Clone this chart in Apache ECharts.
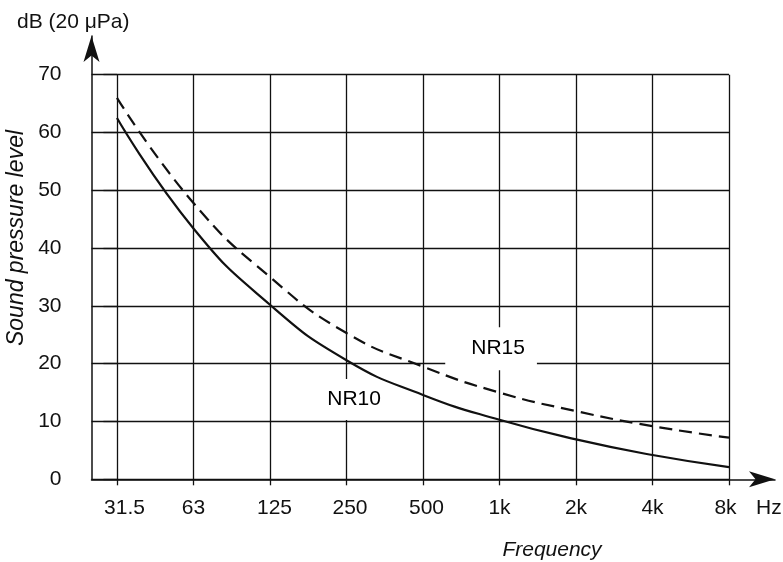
<!DOCTYPE html>
<html><head><meta charset="utf-8">
<script src="https://cdn.jsdelivr.net/npm/echarts@6/dist/echarts.min.js"></script>
<style>html,body{margin:0;padding:0;background:#fff}#c{width:783px;height:562px}</style>
</head><body><div id="c"></div>
<script>
// ---- data ----
const categories = ['31.5', '63', '125', '250', '500', '1k', '2k', '4k', '8k'];
const nr10 = [62.5, 43.4, 30.2, 20.6, 14.6, 10.3, 6.9, 4.2, 2.1];
const nr15 = [66.0, 47.8, 35.0, 25.3, 19.5, 15.0, 11.8, 9.2, 7.2];
const yTicks = [0, 10, 20, 30, 40, 50, 60, 70];
const curveNames = ['NR15', 'NR10'];
const curveLabelX = [4.89, 3.1];
const curveLabelY = [22.6, 13.8];

const FONT = '"Liberation Sans", Arial, sans-serif';
const BLACK = '#111';
const idx = categories.map((c, i) => i);
// small right shift of some tick labels, as in the reference
const labelShift = {'31.5': 'r15', '125': 'r9', '250': 'r7', '500': 'r7', '8k': 'l7'};

const chart = echarts.init(document.getElementById('c'), null, {renderer: 'canvas'});
chart.setOption({
  backgroundColor: '#fff',
  animation: false,
  grid: [
    {left: 91.5, right: 54, top: 74.7, bottom: 82.7},
    {left: 91.5, right: 8, top: 36, bottom: 82.7}
  ],
  xAxis: [{
    gridIndex: 0, type: 'value', min: -0.333, max: 8,
    axisLine: {show: false},
    axisTick: {show: true, length: 6, customValues: idx, lineStyle: {color: BLACK, width: 1.3}},
    axisLabel: {customValues: idx, color: BLACK, fontFamily: FONT, fontSize: 21, margin: 18,
      formatter: v => {
        const c = categories[Math.round(v)];
        return labelShift[c] ? '{' + labelShift[c] + '|' + c + '}' : c;
      },
      rich: {
        r15: {padding: [0, 0, 0, 15], fontFamily: FONT, fontSize: 21, color: BLACK},
        r9: {padding: [0, 0, 0, 9], fontFamily: FONT, fontSize: 21, color: BLACK},
        r7: {padding: [0, 0, 0, 7], fontFamily: FONT, fontSize: 21, color: BLACK},
        l7: {padding: [0, 7, 0, 0], fontFamily: FONT, fontSize: 21, color: BLACK}
      }},
    splitLine: {show: true, lineStyle: {color: BLACK, width: 1.3}}
  }, {
    gridIndex: 1, type: 'value', min: 0, max: 1,
    axisLine: {show: true, symbol: ['none', 'arrow'], symbolSize: [12, 26], lineStyle: {color: BLACK, width: 1.5}},
    axisTick: {show: false}, axisLabel: {show: false}, splitLine: {show: false}
  }],
  yAxis: [{
    gridIndex: 0, type: 'value', min: 0, max: 70, interval: 10,
    axisLine: {show: false},
    axisTick: {show: true, length: 13.5, lineStyle: {color: BLACK, width: 1.3}},
    axisLabel: {color: BLACK, fontFamily: FONT, fontSize: 21, margin: 30,
      formatter: v => yTicks.includes(v) ? String(v) : ''},
    splitLine: {show: true, lineStyle: {color: BLACK, width: 1.3}}
  }, {
    gridIndex: 1, type: 'value', min: 0, max: 1,
    axisLine: {show: true, symbol: ['none', 'arrow'], symbolSize: [12, 26], lineStyle: {color: BLACK, width: 1.5}},
    axisTick: {show: false}, axisLabel: {show: false}, splitLine: {show: false}
  }],
  graphic: [
    {type: 'text', x: 17, y: 22, style: {text: 'dB (20 \u03bcPa)', font: '21px ' + FONT, fill: BLACK, verticalAlign: 'middle', align: 'left'}},
    {type: 'text', x: 756, y: 508, style: {text: 'Hz', font: '21px ' + FONT, fill: BLACK, verticalAlign: 'middle', align: 'left'}},
    {type: 'text', x: 552, y: 550, style: {text: 'Frequency', font: 'italic 21px ' + FONT, fill: BLACK, verticalAlign: 'middle', align: 'center'}},
    {type: 'text', x: 17, y: 238, rotation: Math.PI / 2, style: {text: 'Sound pressure level', font: 'italic 23px ' + FONT, fill: BLACK, verticalAlign: 'middle', align: 'center'}}
  ],
  series: [
    {
      type: 'scatter', xAxisIndex: 0, yAxisIndex: 0, z: 1, symbolSize: 0, silent: true,
      itemStyle: {opacity: 1},
      data: curveNames.map((n, i) => ({name: n, value: [curveLabelX[i], curveLabelY[i]],
        label: {padding: i === 0 ? [17, 12, 5, 26] : [10, 14, 10, 14]}})),
      label: {show: true, position: 'inside', formatter: p => p.name, color: '#000', opacity: 1,
        fontFamily: FONT, fontSize: 21, lineHeight: 21, backgroundColor: '#fff'}
    },
    {
      name: 'NR10', type: 'line', xAxisIndex: 0, yAxisIndex: 0, z: 3, smooth: 0.5, symbol: 'none',
      data: idx.map(i => [i, nr10[i]]),
      lineStyle: {color: BLACK, width: 2.2, type: 'solid'}
    },
    {
      name: 'NR15', type: 'line', xAxisIndex: 0, yAxisIndex: 0, z: 3, smooth: 0.5, symbol: 'none',
      data: idx.map(i => [i, nr15[i]]),
      lineStyle: {color: BLACK, width: 2.2, type: [13, 7]}
    }
  ]
});
</script></body></html>
